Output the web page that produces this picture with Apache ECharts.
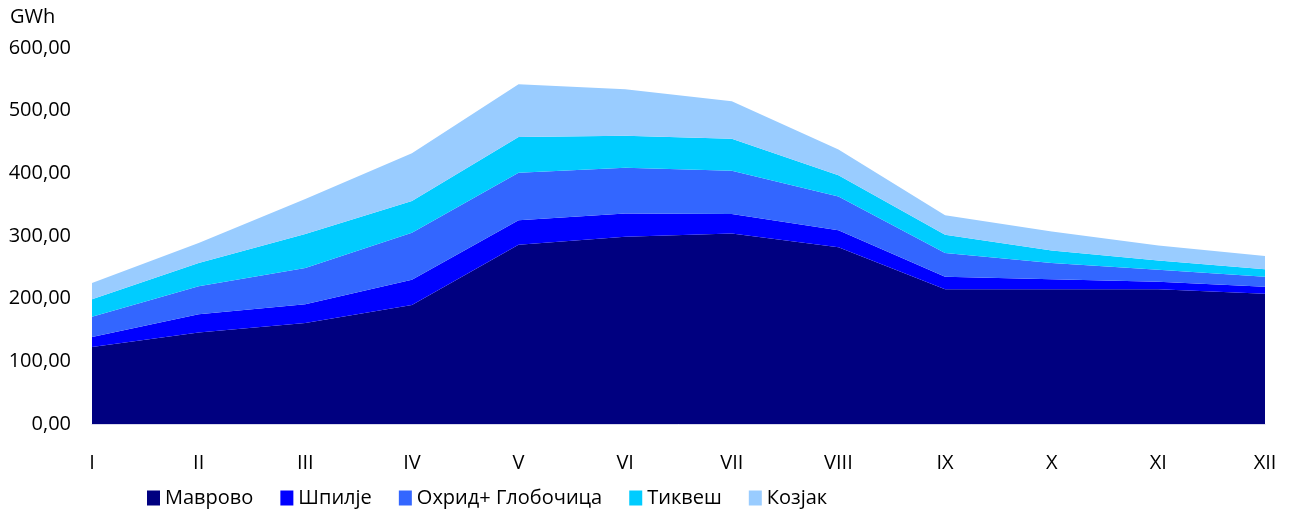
<!DOCTYPE html>
<html>
<head>
<meta charset="utf-8">
<script src="https://cdn.jsdelivr.net/npm/echarts@6/dist/echarts.min.js"></script>
<style>
  html, body { margin: 0; padding: 0; background: #fff; }
  #chart { width: 1292px; height: 511px; }
</style>
</head>
<body>
<div id="chart"></div>
<script>
var months = ['I', 'II', 'III', 'IV', 'V', 'VI', 'VII', 'VIII', 'IX', 'X', 'XI', 'XII'];
var mavrovo = [123, 146, 161, 190, 286, 299, 304, 282, 215, 215, 215, 208];
var spilje  = [16, 29, 30, 40, 39, 37, 31, 27, 20, 16, 12, 11];
var ohrid   = [32, 45, 58, 75, 76, 73, 69, 54, 38, 26, 19, 16];
var tikves  = [28, 37, 54, 51, 57, 51, 51, 34, 29, 20, 15, 12];
var kozjak  = [26, 32, 56, 76, 84, 74, 60, 41, 31, 30, 24, 21];

var names = ['Маврово', 'Шпилје', 'Охрид+ Глобочица', 'Тиквеш', 'Козјак'];
var colors = ['#000080', '#0000ff', '#3366ff', '#00ccff', '#99ccff'];
var font = 'Open Sans';

var myChart = echarts.init(document.getElementById('chart'));

function areaSeries(name, data, color) {
    return {
        name: name,
        type: 'line',
        stack: 'total',
        symbol: 'none',
        lineStyle: { width: 0 },
        itemStyle: { color: color },
        areaStyle: { color: color, opacity: 1 },
        data: data
    };
}

var option = {
    animation: false,
    title: {
        text: 'GWh',
        left: 5,
        top: 2,
        textStyle: { fontFamily: font, fontSize: 20, fontWeight: 'normal', color: '#000' }
    },
    grid: { left: 92, right: 27, top: 48, bottom: 87 },
    legend: {
        left: 147,
        top: 488,
        padding: 0,
        itemWidth: 13,
        itemHeight: 15,
        itemGap: 27,
        icon: 'rect',
        textStyle: { fontFamily: font, fontSize: 20, color: '#000' },
        data: names
    },
    xAxis: {
        type: 'category',
        boundaryGap: false,
        data: months,
        axisLine: { lineStyle: { color: '#d9d9ec', width: 1 } },
        axisTick: { show: false },
        axisLabel: { fontFamily: font, fontSize: 20, color: '#000', margin: 29 }
    },
    yAxis: {
        type: 'value',
        min: 0,
        max: 600,
        interval: 100,
        splitLine: { show: false },
        axisLine: { show: false },
        axisTick: { show: false },
        axisLabel: {
            fontFamily: font,
            fontSize: 20,
            color: '#000',
            margin: 21,
            formatter: function (v) { return v.toFixed(2).replace('.', ','); }
        }
    },
    series: [
        areaSeries(names[0], mavrovo, colors[0]),
        areaSeries(names[1], spilje, colors[1]),
        areaSeries(names[2], ohrid, colors[2]),
        areaSeries(names[3], tikves, colors[3]),
        areaSeries(names[4], kozjak, colors[4])
    ]
};

myChart.setOption(option);
</script>
</body>
</html>
